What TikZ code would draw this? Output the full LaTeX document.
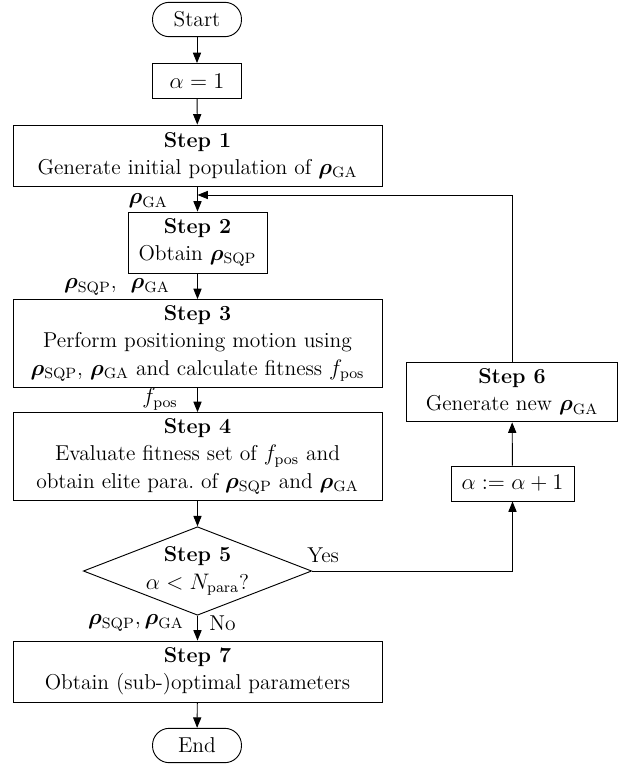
\documentclass[tikz,border=0pt]{standalone}
\usepackage{amsmath,bm}
\usetikzlibrary{shapes.geometric,arrows.meta}
\newcommand{\rGA}{\bm{\rho}_{\mathrm{GA}}}
\newcommand{\rSQP}{\bm{\rho}_{\mathrm{SQP}}}
\begin{document}
\begin{tikzpicture}[x=0.535pt,y=-0.535pt,line width=0.5pt,
  font=\fontsize{11.5pt}{14.6pt}\selectfont,
  box/.style={draw,rectangle,align=center,inner sep=0pt},
  term/.style={draw,rounded corners=9pt,minimum width=47.6pt,minimum height=18.4pt,inner sep=0pt},
  arr/.style={-{Triangle[length=5.6pt,width=4.4pt]}},
  lbl/.style={inner sep=1pt}]
\useasboundingbox (0,0) rectangle (628,768);
\node[term] (start) at (197,19.5) {Start};
\node[box,minimum width=47.6pt,minimum height=18.7pt] (a1) at (197,81) {$\alpha = 1$};
\node[box,minimum width=197.4pt,minimum height=32.6pt] (s1) at (197.5,155.5) {\textbf{Step 1}\\Generate initial population of $\rGA$};
\node[box,minimum width=74.4pt,minimum height=32.6pt] (s2) at (197.5,242.5) {\textbf{Step 2}\\Obtain $\rSQP$};
\node[box,minimum width=197.4pt,minimum height=47pt] (s3) at (197.5,343.5) {\textbf{Step 3}\\Perform positioning motion using\\$\rSQP$, $\rGA$ and calculate fitness $f_{\mathrm{pos}}$};
\node[box,minimum width=197.4pt,minimum height=47pt] (s4) at (197.5,456.5) {\textbf{Step 4}\\Evaluate fitness set of $f_{\mathrm{pos}}$ and\\obtain elite para.\ of $\rSQP$ and $\rGA$};
\node[draw,diamond,align=center,inner sep=0pt,shape aspect=2.58,minimum width=118.8pt,minimum height=46pt] (d5) at (197.5,571) {\textbf{Step 5}\\$\alpha < N_{\mathrm{para}}$?};
\node[box,minimum width=197.4pt,minimum height=32.6pt] (s7) at (197.5,671.5) {\textbf{Step 7}\\Obtain (sub-)optimal parameters};
\node[term] (end) at (197,745.5) {End};
\node[box,minimum width=112.4pt,minimum height=32pt] (s6) at (512,392) {\textbf{Step 6}\\Generate new $\rGA$};
\node[box,minimum width=65.8pt,minimum height=18.7pt] (a2) at (512.5,483.5) {$\alpha := \alpha + 1$};
\coordinate (j) at (197.5,195);
\draw[arr] (start) -- (a1);
\draw[arr] (a1) -- (s1);
\draw[arr] (s1) -- (s2);
\draw[arr] (s2) -- (s3);
\draw[arr] (s3) -- (s4);
\draw[arr] (s4) -- (d5);
\draw[arr] (d5) -- (s7);
\draw[arr] (s7) -- (end);
\draw[arr] (d5.east) -| (a2.south);
\draw[arr] (a2) -- (s6);
\draw[arr] (s6.north) |- (j);
\node[lbl,anchor=east] (l1) at (170,201) {$\rGA$};
\node[lbl,anchor=east] (l2) at (172,287) {$\rSQP$,~ $\rGA$};
\node[lbl,anchor=east] (l3) at (180,399) {$f_{\mathrm{pos}}$};
\node[lbl,anchor=east] (l4) at (186,623) {$\rSQP,\rGA$};
\node[lbl,anchor=west] (l5) at (207,623) {No};
\node[lbl,anchor=west] (l6) at (305,555) {Yes};
\end{tikzpicture}
\end{document}
